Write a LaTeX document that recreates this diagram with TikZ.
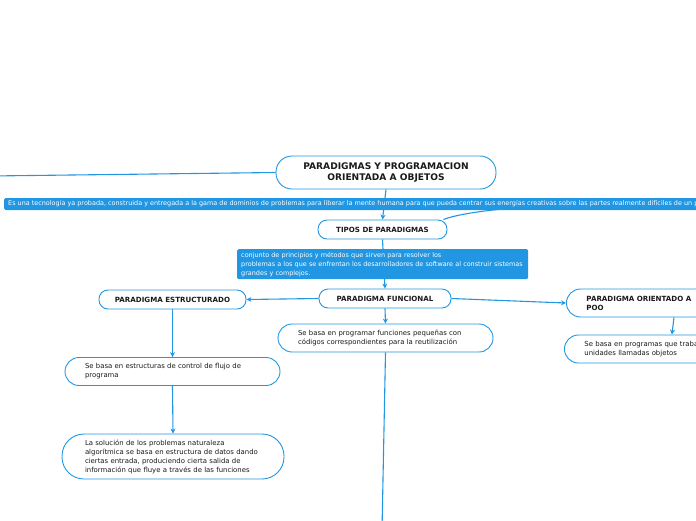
\documentclass[tikz,border=0pt]{standalone}
\usepackage{fontspec}
\setmainfont{DejaVu Sans}
\usepackage{tikz}
\usetikzlibrary{arrows.meta, positioning, backgrounds}
\definecolor{MapBlue}{HTML}{2196E2}
\definecolor{InkBlack}{HTML}{1A1A1A}
\tikzset{
  % Box styles
  rootbox/.style={rectangle, rounded corners=16pt, draw=MapBlue, fill=white, line width=0.9pt, minimum width=220pt, minimum height=33pt, font=\fontsize{9.1}{11.5}\selectfont\bfseries, align=center, text=InkBlack},
  topicbox/.style={rectangle, rounded corners=9pt, draw=MapBlue, fill=white, line width=0.9pt, minimum height=19pt, font=\fontsize{7.1}{8.5}\selectfont\bfseries, align=center, text=InkBlack},
  notebox/.style={rectangle, rounded corners=14pt, draw=MapBlue, fill=white, line width=0.9pt, minimum height=28pt, inner xsep=20pt, text width=175pt, font=\fontsize{6.9}{9}\selectfont, align=left, text=InkBlack},
  bannerbox/.style={rectangle, rounded corners=1.5pt, fill=MapBlue, text=white, inner xsep=4pt, inner ysep=1.5pt, font=\fontsize{6.45}{9}\selectfont, align=left},
  % Arrow styles
  arrow/.style={-{Stealth[length=5pt,width=5pt]}, line width=1.1pt, MapBlue},
  link/.style={line width=1.1pt, MapBlue}
}

\begin{document}
\begin{tikzpicture}[x=1pt, y=-1pt]
  \useasboundingbox (0,0) rectangle (696,520);
  \clip (0,0) rectangle (696,520);

  % Root
  \node[rootbox] (root) at (386,172.5) {PARADIGMAS Y PROGRAMACION\\ORIENTADA A OBJETOS};

  % Definitions
  \node[bannerbox, anchor=west, minimum height=12pt] (tecnologia) at (4,204) {Es una tecnología ya probada, construida y entregada a la gama de dominios de problemas para liberar la mente humana para que pueda centrar sus energías creativas sobre las partes realmente difíciles de un problema.};
  \node[topicbox, minimum width=129pt] (tipos) at (382.5,229.5) {TIPOS DE PARADIGMAS};
  \node[bannerbox, anchor=north west, text width=283pt, minimum height=30pt] (conjunto) at (237,249) {conjunto de principios y métodos que sirven para resolver los\\problemas a los que se enfrentan los desarrolladores de software al construir sistemas\\grandes y complejos.};

  % Paradigms
  \node[topicbox, minimum width=132pt] (funcional) at (385,298.5) {PARADIGMA FUNCIONAL};
  \node[topicbox, minimum width=147pt] (estructurado) at (172.5,299.5) {PARADIGMA ESTRUCTURADO};
  \node[notebox, anchor=west, font=\fontsize{7.1}{9}\selectfont\bfseries] (orientado) at (566,303) {PARADIGMA ORIENTADO A\\POO};

  % Notes
  \node[notebox, anchor=west] (objetos) at (564,349) {Se basa en programas que trabajan con\\unidades llamadas objetos};
  \node[notebox] (funciones) at (385.5,338) {Se basa en programar funciones pequeñas con\\códigos correspondientes para la reutilización};
  \node[notebox] (flujo) at (172.5,371.5) {Se basa en estructuras de control de flujo de\\programa};
  \node[notebox, inner xsep=23pt, text width=176pt, minimum height=45pt, rounded corners=22pt] (solucion) at (173,456.5) {La solución de los problemas naturaleza\\algorítmica se basa en estructura de datos dando\\ciertas entrada, produciendo cierta salida de\\información que fluye a través de las funciones};

  % Loose ends
  \coordinate (farleft) at (-10,176);
  \coordinate (farright) at (545,207);
  \coordinate (farbottom) at (382,530);

  % Connectors
  \begin{scope}[on background layer]
    \draw[link] (root.west) -- (farleft);
    \draw[arrow] (root.south) -- (tipos.north);
    \draw[link] ([xshift=-4pt]tipos.north east) .. controls +(14,-6) and +(-40,0) .. (farright);
    \draw[arrow] (tipos.south) -- (funcional.north);
    \draw[arrow] (funcional.west) -- (estructurado.east);
    \draw[arrow] (funcional.east) -- (orientado.west);
    \draw[arrow] (orientado.south) -- (objetos.north);
    \draw[arrow] (funcional.south) -- (funciones.north);
    \draw[link] (funciones.south) -- (farbottom);
    \draw[arrow] (estructurado.south) -- (flujo.north);
    \draw[arrow] (flujo.south) -- (solucion.north);
  \end{scope}
\end{tikzpicture}
\end{document}
